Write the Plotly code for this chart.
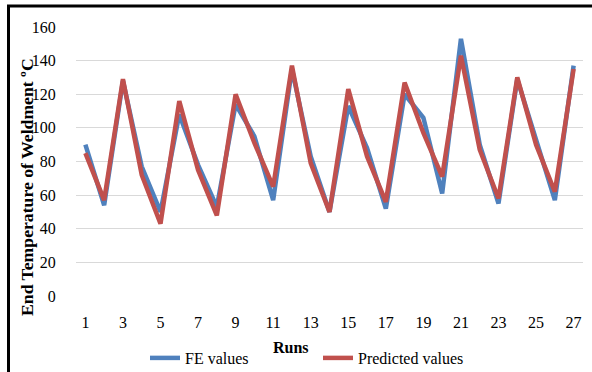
import plotly.graph_objects as go

runs = list(range(1, 28))
fe_values = [90, 54, 128, 77, 50, 108, 78, 53, 114, 95, 57, 135, 83, 50, 113,
             88, 52, 120, 106, 61, 153, 90, 55, 129, 93, 57, 137]
predicted_values = [85, 57, 129, 72, 43, 116, 75, 48, 120, 91, 65, 137, 79, 50, 123,
                    83, 56, 127, 97, 71, 143, 87, 58, 130, 90, 62, 135]
x_ticks = list(range(1, 28, 2))
y_ticks = list(range(0, 161, 20))

FONT = "Liberation Serif, Times New Roman, serif"
W, H = 592, 372
L, R, T, B = 76, 9, 27, 76
pw, ph = W - L - R, H - T - B

def px_x(p):
    return (p - L) / pw

def px_y(p):
    return (H - B - p) / ph

fig = go.Figure()
fig.add_trace(go.Scatter(x=runs, y=fe_values, mode="lines", name="FE values",
                         line=dict(color="#4F81BD", width=4.5)))
fig.add_trace(go.Scatter(x=runs, y=predicted_values, mode="lines", name="Predicted values",
                         line=dict(color="#C0504D", width=4.5)))

fig.update_layout(
    width=W, height=H,
    margin=dict(l=L, r=R, t=T, b=B, autoexpand=False),
    paper_bgcolor="white", plot_bgcolor="white",
    font=dict(family=FONT, size=16, color="black"),
    showlegend=True,
    legend=dict(orientation="h", xref="container", yref="container",
                x=145 / W, y=1 - 358 / H, xanchor="left", yanchor="middle",
                font=dict(family=FONT, size=16, color="black"), bgcolor="rgba(0,0,0,0)",
                entrywidth=128, entrywidthmode="pixels", tracegroupgap=0),
    xaxis=dict(range=[0.5, 27.5], tickmode="array", tickvals=x_ticks,
               ticktext=[str(v) for v in x_ticks], showgrid=False, zeroline=False,
               showline=False, ticks="outside", ticklen=12, tickcolor="rgba(0,0,0,0)",
               tickfont=dict(family=FONT, size=16, color="black")),
    yaxis=dict(range=[0, 160], tickmode="array", tickvals=y_ticks,
               showgrid=True, gridcolor="#D9D9D9", gridwidth=1.3, zeroline=False,
               showline=False, ticks="outside", ticklen=16, tickcolor="rgba(0,0,0,0)",
               tickfont=dict(family=FONT, size=16, color="black")),
    annotations=[
        dict(text="<b>End Temperature of Weldment ºC</b>", xref="paper", yref="paper",
             x=px_x(27), y=px_y(187), textangle=-90, showarrow=False,
             xanchor="center", yanchor="middle",
             font=dict(family=FONT, size=17.7, color="black")),
        dict(text="<b>Runs</b>", xref="paper", yref="paper",
             x=px_x(291), y=px_y(347), showarrow=False,
             xanchor="center", yanchor="middle",
             font=dict(family=FONT, size=16, color="black")),
    ],
    shapes=[
        dict(type="line", xref="paper", yref="paper",
             x0=px_x(8.5), x1=px_x(8.5), y0=px_y(H + 2), y1=px_y(5),
             line=dict(color="black", width=3)),
        dict(type="line", xref="paper", yref="paper",
             x0=px_x(7), x1=px_x(W + 2), y0=px_y(6), y1=px_y(6),
             line=dict(color="black", width=3)),
    ],
)

fig.write_html("out.html")
